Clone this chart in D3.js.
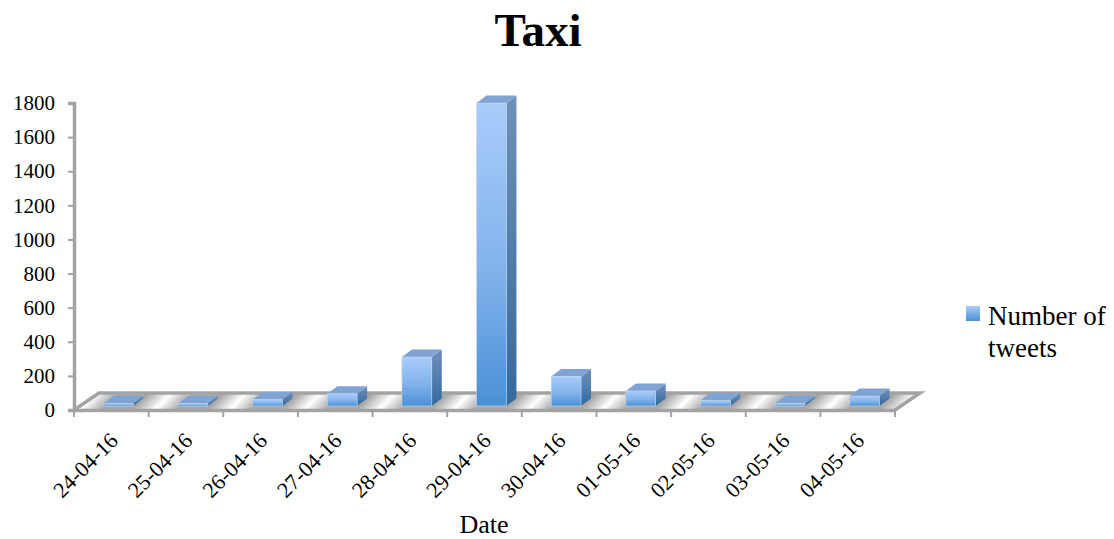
<!DOCTYPE html>
<html>
<head>
<meta charset="utf-8">
<style>
  body { margin: 0; background: #fff; }
  text { font-family: "Liberation Serif", serif; fill: #000; }
  .axis path, .axis line { stroke: #a3a3a3; }
</style>
</head>
<body>
<svg id="chart" width="1114" height="539"></svg>
<script src="https://cdnjs.cloudflare.com/ajax/libs/d3/7.8.5/d3.min.js"></script>
<script>
const dates = ['24-04-16', '25-04-16', '26-04-16', '27-04-16', '28-04-16', '29-04-16',
  '30-04-16', '01-05-16', '02-05-16', '03-05-16', '04-05-16'];
const tweets = [15, 15, 38, 72, 287, 1776, 173, 88, 32, 15, 58];
const yTicks = [0, 200, 400, 600, 800, 1000, 1200, 1400, 1600, 1800];
const seriesName = ['Number of', 'tweets'];

const svg = d3.select('#chart');
const plotLeft = 74, plotRight = 895, plotBottom = 410, plotTop = 103;
const floorDx = 25, floorDy = -17;    // depth of the floor
const barDx = 10, barDy = -7.5;       // depth of a bar
const barLift = 4, barShift = 7;      // bars stand a bit behind the front edge

const x = d3.scaleBand().domain(dates).range([plotLeft, plotRight]).paddingInner(0.6).paddingOuter(0.3);
const y = d3.scaleLinear().domain([0, 1800]).range([plotBottom, plotTop]);

const defs = svg.append('defs');

function vGrad(id, stops) {
  const g = defs.append('linearGradient').attr('id', id)
    .attr('x1', 0).attr('y1', 0).attr('x2', 0).attr('y2', 1);
  stops.forEach(s => g.append('stop').attr('offset', s[0]).attr('stop-color', s[1]));
}
// same gradient on all bars, so short ones end up mostly in the pale part
vGrad('front', [[0, '#a9ccfb'], [0.55, '#82b3ec'], [1, '#4a90d6']]);
vGrad('side', [[0, '#6f90b8'], [1, '#346aa0']]);
vGrad('swatch', [[0, '#a9ccfb'], [1, '#4a90d6']]);

// floor stripes, one white band per category, running up to the right
const step = x.step();
const stripeX = plotLeft + 89, stripeY = plotBottom + floorDy / 2;
const stripes = defs.append('linearGradient').attr('id', 'stripes')
  .attr('gradientUnits', 'userSpaceOnUse').attr('spreadMethod', 'repeat')
  .attr('x1', stripeX).attr('y1', stripeY)
  .attr('x2', stripeX + step / 2).attr('y2', stripeY + step / 2);
[[0, '#ffffff'], [0.3, '#a8a8a8'], [0.7, '#a8a8a8'], [1, '#ffffff']]
  .forEach(s => stripes.append('stop').attr('offset', s[0]).attr('stop-color', s[1]));

// floor
const floorPts = [[plotLeft, plotBottom], [plotRight, plotBottom],
  [plotRight + floorDx, plotBottom + floorDy], [plotLeft + floorDx, plotBottom + floorDy]];
svg.append('path').attr('d', d3.line()(floorPts) + 'Z').attr('fill', 'url(#stripes)');
svg.append('path').attr('d', d3.line()([floorPts[0], floorPts[3], floorPts[2], floorPts[1]]))
  .attr('fill', 'none').attr('stroke', '#a3a3a3').attr('stroke-width', 3.5);

// y axis
const yAxis = svg.append('g').attr('class', 'axis')
  .attr('transform', `translate(${plotLeft},0)`)
  .call(d3.axisLeft(y).tickValues(yTicks).tickFormat(d3.format('d')).tickSize(6).tickPadding(13));
yAxis.select('.domain').attr('stroke-width', 3.5);
yAxis.selectAll('line').attr('stroke-width', 2);
yAxis.selectAll('text').attr('font-size', 21);

// x axis
const xAxis = svg.append('g').attr('class', 'axis')
  .attr('transform', `translate(0,${plotBottom})`)
  .call(d3.axisBottom(x).tickSize(0).tickFormat(''));
xAxis.select('.domain').attr('stroke-width', 3.5);
xAxis.selectAll('.edge').data(d3.range(dates.length + 1)).enter().append('line')
  .attr('x1', i => plotLeft + i * step).attr('x2', i => plotLeft + i * step)
  .attr('y1', 0).attr('y2', 7).attr('stroke-width', 2);

svg.append('g').selectAll('text').data(dates).enter().append('text')
  .attr('text-anchor', 'end').attr('font-size', 22)
  .attr('transform', d => `translate(${x(d) + x.bandwidth() / 2 - 3},431) rotate(-45)`)
  .attr('dy', '0.7em')
  .text(d => d);

// bars
const bars = svg.append('g').selectAll('g').data(tweets).enter().append('g');
const bx = (d, i) => x(dates[i]) + barShift;
const bw = x.bandwidth();
const base = plotBottom - barLift;
const barTop = d => y(d) - barLift;

bars.append('path').attr('fill', 'url(#side)')
  .attr('d', (d, i) => {
    const r = bx(d, i) + bw;
    return d3.line()([[r, barTop(d)], [r + barDx, barTop(d) + barDy], [r + barDx, base + barDy], [r, base]]) + 'Z';
  });
bars.append('path').attr('fill', '#7fa3d2')
  .attr('d', (d, i) => {
    const l = bx(d, i), r = l + bw, t = barTop(d);
    return d3.line()([[l, t], [r, t], [r + barDx, t + barDy], [l + barDx, t + barDy]]) + 'Z';
  });
bars.append('rect').attr('fill', 'url(#front)')
  .attr('stroke', '#c4d6ec').attr('stroke-width', 0.6)
  .attr('x', bx).attr('y', barTop).attr('width', bw)
  .attr('height', d => Math.max(base - barTop(d), 1));

// title and axis title
svg.append('text').attr('x', 538).attr('y', 46).attr('text-anchor', 'middle')
  .attr('font-size', 47).attr('font-weight', 'bold').text('Taxi');
svg.append('text').attr('x', 484).attr('y', 533).attr('text-anchor', 'middle')
  .attr('font-size', 26).text('Date');

// legend
svg.append('rect').attr('x', 966).attr('y', 306).attr('width', 14).attr('height', 15).attr('fill', 'url(#swatch)');
svg.append('g').selectAll('text').data(seriesName).enter().append('text')
  .attr('x', 988).attr('y', (d, i) => 325 + i * 32).attr('font-size', 27).text(d => d);
</script>
</body>
</html>
